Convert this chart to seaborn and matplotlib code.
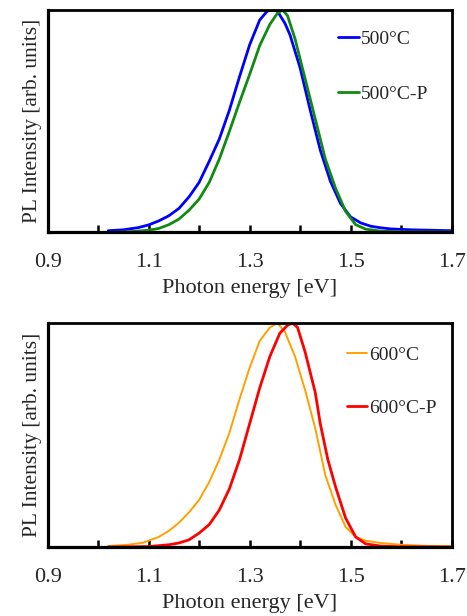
import numpy as np
import pandas as pd
import seaborn as sns
import matplotlib
matplotlib.use("Agg")
import matplotlib.pyplot as plt
from matplotlib.ticker import MultipleLocator

# 500C series
x_500 = [1.02, 1.05, 1.08, 1.10, 1.12, 1.14, 1.16, 1.18, 1.20, 1.22, 1.24, 1.26,
         1.28, 1.30, 1.32, 1.335, 1.345, 1.355, 1.37, 1.38, 1.40, 1.42, 1.44,
         1.46, 1.48, 1.50, 1.52, 1.54, 1.56, 1.58, 1.62, 1.66, 1.70]
y_500 = [0.008, 0.012, 0.022, 0.034, 0.052, 0.075, 0.108, 0.160, 0.225, 0.320,
         0.420, 0.550, 0.700, 0.843, 0.955, 0.995, 1.0, 0.995, 0.94, 0.888,
         0.74, 0.55, 0.37, 0.23, 0.13, 0.070, 0.043, 0.028, 0.021, 0.016,
         0.012, 0.010, 0.008]

x_500p = [1.02, 1.06, 1.10, 1.12, 1.14, 1.16, 1.18, 1.20, 1.22, 1.24, 1.26, 1.28,
          1.30, 1.32, 1.34, 1.355, 1.365, 1.375, 1.39, 1.41, 1.43, 1.45, 1.47,
          1.49, 1.51, 1.53, 1.56, 1.60, 1.70]
y_500p = [0.0, 0.003, 0.010, 0.018, 0.035, 0.060, 0.100, 0.150, 0.225, 0.33,
          0.455, 0.585, 0.71, 0.84, 0.935, 0.985, 1.0, 0.975, 0.87, 0.69, 0.51,
          0.33, 0.20, 0.095, 0.035, 0.015, 0.006, 0.003, 0.002]

# 600C series
x_600 = [1.02, 1.06, 1.09, 1.12, 1.14, 1.16, 1.18, 1.20, 1.22, 1.24, 1.26, 1.28,
         1.30, 1.32, 1.34, 1.355, 1.37, 1.39, 1.41, 1.43, 1.45, 1.47, 1.49,
         1.51, 1.53, 1.56, 1.60, 1.65, 1.70]
y_600 = [0.004, 0.010, 0.020, 0.045, 0.072, 0.108, 0.155, 0.210, 0.29, 0.39,
         0.51, 0.66, 0.80, 0.92, 0.98, 1.0, 0.96, 0.85, 0.70, 0.53, 0.32, 0.19,
         0.09, 0.045, 0.028, 0.018, 0.010, 0.005, 0.003]

x_600p = [1.02, 1.10, 1.14, 1.16, 1.18, 1.20, 1.22, 1.24, 1.26, 1.28, 1.30, 1.32,
          1.34, 1.36, 1.375, 1.385, 1.395, 1.41, 1.43, 1.44, 1.455, 1.47, 1.49,
          1.51, 1.53, 1.56, 1.60, 1.70]
y_600p = [0.0, 0.002, 0.01, 0.018, 0.032, 0.062, 0.10, 0.165, 0.26, 0.39, 0.55,
          0.71, 0.85, 0.955, 0.99, 1.0, 0.98, 0.87, 0.69, 0.55, 0.39, 0.27,
          0.13, 0.045, 0.014, 0.004, 0.001, 0.0]

xticks = [0.9, 1.1, 1.3, 1.5, 1.7]

sns.set_style("white")
plt.rcParams['font.family'] = ['Liberation Serif', 'DejaVu Serif']

fig = plt.figure(figsize=(4.67, 6.16), dpi=100)
ax1 = fig.add_axes([0.102, 0.6226, 0.865, 0.3612])
ax2 = fig.add_axes([0.102, 0.112, 0.865, 0.3636])

panels = [
    (ax1, [(x_500, y_500, "500°C", "#0000ff", 2.0),
           (x_500p, y_500p, "500°C-P", "#108a10", 2.0)], (0.72, 0.91), 1.95),
    (ax2, [(x_600, y_600, "600°C", "#ffa000", 1.4),
           (x_600p, y_600p, "600°C-P", "#ff0000", 2.0)], (0.74, 0.895), 1.8),
]

for ax, series, legpos, lspace in panels:
    for xs, ys, lab, col, lw in series:
        d = pd.DataFrame({"x": xs, "y": ys})
        sns.lineplot(data=d, x="x", y="y", ax=ax, color=col, linewidth=lw,
                     label=lab, sort=False, estimator=None)
    ax.set_xlim(0.9, 1.7)
    ax.set_ylim(0, 1.0)
    ax.set_xticks(xticks)
    ax.set_xticklabels([f"{t:.1f}" for t in xticks])
    ax.xaxis.set_minor_locator(MultipleLocator(0.1))
    ax.set_yticks([])
    ax.tick_params(axis="x", which="both", direction="in", length=5, width=1.8,
                   bottom=True, top=False, pad=15, labelsize=16, color="black")
    ax.set_xlabel("Photon energy [eV]", fontsize=16, labelpad=5)
    ax.set_ylabel("PL Intensity [arb. units]", fontsize=15.5, labelpad=4)
    for side in ["left", "bottom"]:
        ax.spines[side].set_linewidth(2.3)
        ax.spines[side].set_color("black")
    for side in ["top", "right"]:
        ax.spines[side].set_linewidth(2.0)
        ax.spines[side].set_color("black")
    leg = ax.legend(loc="upper left", bbox_to_anchor=legpos, frameon=False,
                    fontsize=14, handlelength=1.05, handletextpad=0.1,
                    labelspacing=lspace, borderpad=0, borderaxespad=0)

fig.savefig("out.png", dpi=100)
